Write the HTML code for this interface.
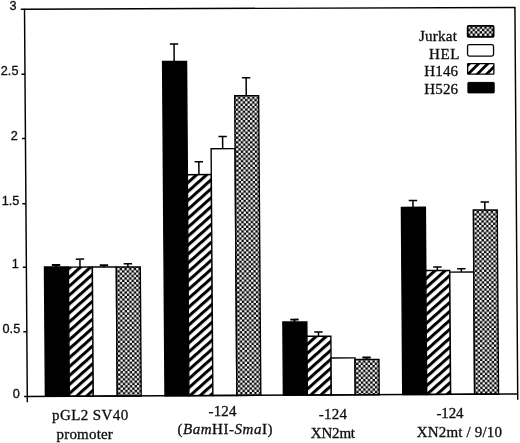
<!DOCTYPE html>
<html lang="en"><head><meta charset="utf-8"><title>Bar chart</title>
<style>html,body{margin:0;padding:0;background:#fff}body{width:520px;height:443px;overflow:hidden}svg{display:block}.ser{font-family:"Liberation Serif",serif;font-size:15px;fill:#0c0c0c;stroke:#0c0c0c;stroke-width:.3px}.san{font-family:"Liberation Sans",sans-serif;font-size:12.2px;fill:#0c0c0c;stroke:#0c0c0c;stroke-width:.3px}</style></head><body>
<svg width="520" height="443" viewBox="0 0 520 443">
<defs>
<pattern id="h0" patternUnits="userSpaceOnUse" width="40" height="6.681" patternTransform="translate(69.95,275.58) rotate(-41.35)"><rect x="0" y="0" width="40" height="6.681" fill="#fff"/><rect x="0" y="0" width="40" height="3.040" fill="#060606"/></pattern>
<pattern id="c0" patternUnits="userSpaceOnUse" width="4.69" height="4.69" patternTransform="translate(118.25,268.40)"><rect width="4.69" height="4.69" fill="#060606"/><rect x="0.04" y="0.04" width="2.265" height="2.265" fill="#fff"/><rect x="2.385" y="2.385" width="2.265" height="2.265" fill="#fff"/></pattern>
<pattern id="h1" patternUnits="userSpaceOnUse" width="40" height="6.681" patternTransform="translate(189.55,181.28) rotate(-41.35)"><rect x="0" y="0" width="40" height="6.681" fill="#fff"/><rect x="0" y="0" width="40" height="3.040" fill="#060606"/></pattern>
<pattern id="c1" patternUnits="userSpaceOnUse" width="4.69" height="4.69" patternTransform="translate(237.85,97.70)"><rect width="4.69" height="4.69" fill="#060606"/><rect x="0.04" y="0.04" width="2.265" height="2.265" fill="#fff"/><rect x="2.385" y="2.385" width="2.265" height="2.265" fill="#fff"/></pattern>
<pattern id="h2" patternUnits="userSpaceOnUse" width="40" height="6.681" patternTransform="translate(307.95,343.48) rotate(-41.35)"><rect x="0" y="0" width="40" height="6.681" fill="#fff"/><rect x="0" y="0" width="40" height="3.040" fill="#060606"/></pattern>
<pattern id="c2" patternUnits="userSpaceOnUse" width="4.69" height="4.69" patternTransform="translate(356.25,362.00)"><rect width="4.69" height="4.69" fill="#060606"/><rect x="0.04" y="0.04" width="2.265" height="2.265" fill="#fff"/><rect x="2.385" y="2.385" width="2.265" height="2.265" fill="#fff"/></pattern>
<pattern id="h3" patternUnits="userSpaceOnUse" width="40" height="6.681" patternTransform="translate(427.30,278.33) rotate(-41.35)"><rect x="0" y="0" width="40" height="6.681" fill="#fff"/><rect x="0" y="0" width="40" height="3.040" fill="#060606"/></pattern>
<pattern id="c3" patternUnits="userSpaceOnUse" width="4.69" height="4.69" patternTransform="translate(475.60,213.20)"><rect width="4.69" height="4.69" fill="#060606"/><rect x="0.04" y="0.04" width="2.265" height="2.265" fill="#fff"/><rect x="2.385" y="2.385" width="2.265" height="2.265" fill="#fff"/></pattern>
<pattern id="hatchL" patternUnits="userSpaceOnUse" width="40" height="6.505" patternTransform="translate(468.10,72.20) rotate(-45.00)"><rect x="0" y="0" width="40" height="6.505" fill="#fff"/><rect x="0" y="0" width="40" height="2.828" fill="#060606"/></pattern>
<pattern id="chkL" patternUnits="userSpaceOnUse" width="4.7" height="4.7" patternTransform="translate(467.90,26.50)"><rect width="4.7" height="4.7" fill="#060606"/><rect x="0.04" y="0.04" width="2.270" height="2.270" fill="#fff"/><rect x="2.390" y="2.390" width="2.270" height="2.270" fill="#fff"/></pattern>
<filter id="bl" x="-5%" y="-5%" width="110%" height="110%"><feGaussianBlur stdDeviation="0.3"/></filter>
</defs>
<rect width="520" height="443" fill="#fff"/>
<g filter="url(#bl)">
<g transform="translate(27.3,396.5) matrix(1,-0.005,0.0072,1,0,0) translate(-27.3,-396.5)" stroke="#060606" stroke-width="1.3" fill="none">
<rect x="45.40" y="267.15" width="23.95" height="129.35" fill="#060606" stroke-width="1.4"/>
<path d="M56.98 267.15V265.15M52.77 265.15H61.18" stroke-width="1.9"/>
<rect x="69.35" y="267.30" width="23.95" height="129.20" fill="url(#h0)" stroke-width="1.4"/>
<path d="M80.92 267.30V259.40M76.72 259.40H85.12" stroke-width="1.5"/>
<rect x="93.30" y="267.40" width="23.95" height="129.10" fill="#ffffff" stroke-width="1.4"/>
<path d="M104.87 267.40V265.60M100.67 265.60H109.07" stroke-width="1.9"/>
<rect x="117.25" y="267.50" width="23.95" height="129.00" fill="url(#c0)" stroke-width="1.4"/>
<path d="M128.82 267.50V264.30M124.62 264.30H133.02" stroke-width="1.5"/>
<rect x="165.00" y="62.20" width="23.95" height="334.30" fill="#060606" stroke-width="1.4"/>
<path d="M176.57 62.20V44.70M172.38 44.70H180.77" stroke-width="1.5"/>
<rect x="188.95" y="175.50" width="23.95" height="221.00" fill="url(#h1)" stroke-width="1.4"/>
<path d="M200.52 175.50V162.60M196.32 162.60H204.72" stroke-width="1.5"/>
<rect x="212.90" y="149.70" width="23.95" height="246.80" fill="#ffffff" stroke-width="1.4"/>
<path d="M224.47 149.70V137.50M220.28 137.50H228.67" stroke-width="1.5"/>
<rect x="236.85" y="96.80" width="23.95" height="299.70" fill="url(#c1)" stroke-width="1.4"/>
<path d="M248.42 96.80V78.90M244.22 78.90H252.62" stroke-width="1.5"/>
<rect x="283.40" y="323.30" width="23.95" height="73.20" fill="#060606" stroke-width="1.4"/>
<path d="M294.98 323.30V320.90M290.78 320.90H299.18" stroke-width="1.9"/>
<rect x="307.35" y="337.70" width="23.95" height="58.80" fill="url(#h2)" stroke-width="1.4"/>
<path d="M318.93 337.70V333.50M314.73 333.50H323.12" stroke-width="1.5"/>
<rect x="331.30" y="359.50" width="23.95" height="37.00" fill="#ffffff" stroke-width="1.4"/>
<rect x="355.25" y="361.10" width="23.95" height="35.40" fill="url(#c2)" stroke-width="1.4"/>
<path d="M366.83 361.10V359.20M362.63 359.20H371.03" stroke-width="1.9"/>
<rect x="402.75" y="209.30" width="23.95" height="187.20" fill="#060606" stroke-width="1.4"/>
<path d="M414.33 209.30V202.40M410.13 202.40H418.53" stroke-width="1.5"/>
<rect x="426.70" y="272.55" width="23.95" height="123.95" fill="url(#h3)" stroke-width="1.4"/>
<path d="M438.28 272.55V269.05M434.08 269.05H442.48" stroke-width="1.5"/>
<rect x="450.65" y="274.20" width="23.95" height="122.30" fill="#ffffff" stroke-width="1.4"/>
<path d="M462.23 274.20V270.90M458.03 270.90H466.43" stroke-width="1.5"/>
<rect x="474.60" y="212.30" width="23.95" height="184.20" fill="url(#c3)" stroke-width="1.4"/>
<path d="M486.18 212.30V204.30M481.98 204.30H490.38" stroke-width="1.5"/>
<path d="M27.3 402.2V9.199999999999989L517.6999999999999 9.85V402.2" stroke-width="1.45" stroke-linejoin="miter"/>
<path d="M24.1 396.5H517.6999999999999" stroke-width="1.5"/>
<path d="M23.8 331.75H27.3" stroke-width="1.4"/>
<path d="M23.8 267.30H27.3" stroke-width="1.4"/>
<path d="M23.8 203.75H27.3" stroke-width="1.4"/>
<path d="M23.8 138.50H27.3" stroke-width="1.4"/>
<path d="M23.8 74.20H27.3" stroke-width="1.4"/>
<path d="M23.6 9.20H27.3" stroke-width="1.45"/>
</g>
<rect x="467.70" y="25.90" width="25.90" height="10.90" rx="0.8" fill="url(#chkL)" stroke="#060606" stroke-width="1.8"/>
<rect x="467.55" y="44.65" width="26.00" height="11.50" rx="1.8" fill="#fff" stroke="#060606" stroke-width="1.3"/>
<rect x="467.65" y="63.55" width="26.20" height="10.60" rx="0.4" fill="url(#hatchL)" stroke="#060606" stroke-width="1.3"/>
<rect x="467.90" y="82.40" width="26.30" height="10.50" rx="0.5" fill="#060606" stroke="#060606" stroke-width="1.0"/>
<text id="l1a" class="ser" x="52.05" y="419.6" textLength="76.10" lengthAdjust="spacing">pGL2 SV40</text>
<text id="l1b" class="ser" x="56.55" y="439.0" textLength="56.30" lengthAdjust="spacing">promoter</text>
<text id="l2a" class="ser" x="208.50" y="416.2" textLength="27.90" lengthAdjust="spacing">-124</text>
<text id="l2b" class="ser" x="177.45" y="433.8" textLength="95.10" lengthAdjust="spacing">(<tspan font-style="italic">Bam</tspan>HI-<tspan font-style="italic">Sma</tspan>I)</text>
<text id="l3a" class="ser" x="318.85" y="419.2" textLength="28.20" lengthAdjust="spacing">-124</text>
<text id="l3b" class="ser" x="310.85" y="438.4" textLength="44.15" lengthAdjust="spacing">XN2mt</text>
<text id="l4a" class="ser" x="436.50" y="417.6" textLength="27.00" lengthAdjust="spacing">-124</text>
<text id="l4b" class="ser" x="416.80" y="436.5" textLength="85.20" lengthAdjust="spacing">XN2mt / 9/10</text>
<text id="g1" class="ser" x="418.95" y="40.7" textLength="37.90" lengthAdjust="spacing">Jurkat</text>
<text id="g2" class="ser" x="429.00" y="58.65" textLength="30.40" lengthAdjust="spacing">HEL</text>
<text id="g3" class="ser" x="424.30" y="75.9" textLength="33.80" lengthAdjust="spacing">H146</text>
<text id="g4" class="ser" x="424.30" y="94.4" textLength="33.80" lengthAdjust="spacing">H526</text>
<text id="y3" class="san" transform="translate(9.58,10.1) scale(1.0400,1)">3</text>
<text id="y25" class="san" transform="translate(0.82,75.2) scale(1.0400,1)">2.5</text>
<text id="y2" class="san" transform="translate(10.65,139.6) scale(1.0400,1)">2</text>
<text id="y15" class="san" transform="translate(1.75,204.5) scale(1.0400,1)">1.5</text>
<text id="y1" class="san" transform="translate(11.82,268.0) scale(1.0400,1)">1</text>
<text id="y05" class="san" transform="translate(2.57,332.7) scale(1.0400,1)">0.5</text>
<text id="y0" class="san" transform="translate(12.67,397.6) scale(1.0400,1)">0</text>
</g>
</svg></body></html>
